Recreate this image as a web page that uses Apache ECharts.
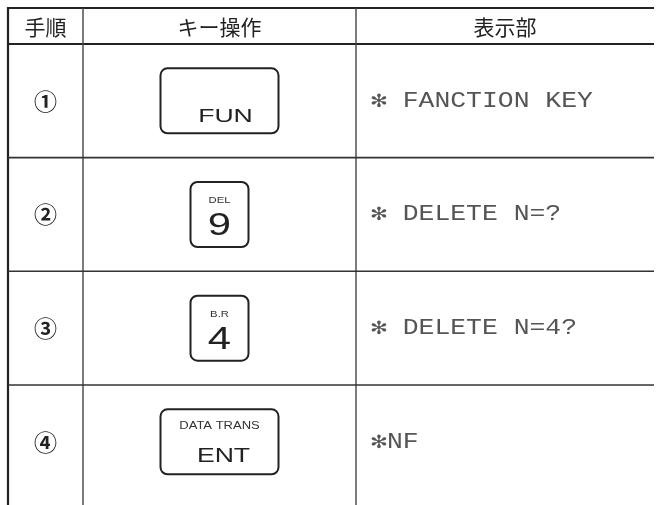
<!DOCTYPE html>
<html><head><meta charset="utf-8">
<script src="https://cdn.jsdelivr.net/npm/echarts@6/dist/echarts.min.js"></script>
<style>html,body{margin:0;padding:0;background:#fff}#c{width:656px;height:505px}</style>
</head><body><div id="c"></div>
<script>
// ---- data ----
const headers = ['手順', 'キー操作', '表示部'];
const steps = ['①', '②', '③', '④'];
const keyTops = ['', 'DEL', 'B.R', 'DATA TRANS'];
const keyMains = ['FUN', '9', '4', 'ENT'];
const keyWide = [true, false, false, true];
const displays = ['✻ FANCTION KEY', '✻ DELETE N=?', '✻ DELETE N=4?', '✻NF'];

// ---- layout (axis units) ----
const COLS = [8, 83, 356, 654];      // x axis units (pixels of the grid)
const HEADER_ROWS = 0.3167;          // header height in row units
const Y_MAX = 4.056;

const CJK = '"Noto Sans CJK JP", "Noto Sans", sans-serif';
const KEYF = '"Liberation Sans", Arial, sans-serif';
const MONO = '"Liberation Mono", "DejaVu Sans Mono", monospace';
const INK = '#222';

const chart = echarts.init(document.getElementById('c'), null, {renderer: 'canvas'});

function frame(params, api) {
  const yTop = api.coord([0, -HEADER_ROWS])[1];
  const yHead = api.coord([0, 0])[1];
  const yBot = api.coord([0, Y_MAX])[1];
  const xs = COLS.map(c => api.coord([c, 0])[0]);
  const ch = [];
  ch.push({type: 'line', shape: {x1: xs[0] - 1, y1: yTop, x2: xs[3], y2: yTop}, style: {stroke: INK, lineWidth: 2.2}});
  ch.push({type: 'line', shape: {x1: xs[0], y1: yHead, x2: xs[3], y2: yHead}, style: {stroke: INK, lineWidth: 2}});
  ch.push({type: 'line', shape: {x1: xs[0], y1: yTop - 1, x2: xs[0], y2: yBot}, style: {stroke: INK, lineWidth: 2.2}});
  ch.push({type: 'line', shape: {x1: xs[1], y1: yTop, x2: xs[1], y2: yBot}, style: {stroke: '#444', lineWidth: 1.4}});
  ch.push({type: 'line', shape: {x1: xs[2], y1: yTop, x2: xs[2], y2: yBot}, style: {stroke: '#444', lineWidth: 1.4}});
  headers.forEach((h, j) => {
    ch.push({type: 'text', x: (xs[j] + xs[j + 1]) / 2, y: (yTop + yHead) / 2 + 1,
      style: {text: h, x: 0, y: 0, align: 'center', verticalAlign: 'middle', fill: INK, font: '21px ' + CJK}});
  });
  return {type: 'group', children: ch};
}

function row(params, api) {
  const i = api.value(0);
  const yA = api.coord([0, i])[1];
  const yB = api.coord([0, i + 1])[1];
  const cy = (yA + yB) / 2;
  const xs = COLS.map(c => api.coord([c, 0])[0]);
  const kx = (xs[1] + xs[2]) / 2;
  const ch = [];
  if (i < steps.length - 1) {
    ch.push({type: 'line', shape: {x1: xs[0], y1: yB, x2: xs[3], y2: yB}, style: {stroke: '#333', lineWidth: 1.6}});
  }
  ch.push({type: 'text', x: (xs[0] + xs[1]) / 2, y: cy,
    style: {text: steps[i], x: 0, y: 0, align: 'center', verticalAlign: 'middle', fill: INK, font: 'bold 23px ' + CJK}});
  const w = keyWide[i] ? 118 : 58;
  const h = 65;
  ch.push({type: 'rect', shape: {x: kx - w / 2, y: cy - h / 2, width: w, height: h, r: 7},
    style: {fill: '#fff', stroke: INK, lineWidth: 2}});
  if (keyWide[i]) {
    if (keyTops[i]) {
      ch.push({type: 'text', x: kx, y: cy - 16, scaleX: 1.3,
        style: {text: keyTops[i], x: 0, y: 0, align: 'center', verticalAlign: 'middle', fill: '#333', font: '10px ' + KEYF}});
      ch.push({type: 'text', x: kx + 4, y: cy + 15, scaleX: 1.33,
        style: {text: keyMains[i], x: 0, y: 0, align: 'center', verticalAlign: 'middle', fill: INK, font: '20px ' + KEYF}});
    } else {
      ch.push({type: 'text', x: kx + 6, y: cy + 16, scaleX: 1.4,
        style: {text: keyMains[i], x: 0, y: 0, align: 'center', verticalAlign: 'middle', fill: INK, font: '19px ' + KEYF}});
    }
  } else {
    ch.push({type: 'text', x: kx, y: cy - 14, scaleX: 1.25,
      style: {text: keyTops[i], x: 0, y: 0, align: 'center', verticalAlign: 'middle', fill: '#333', font: '9px ' + KEYF}});
    ch.push({type: 'text', x: kx, y: cy + 12, scaleX: 1.35,
      style: {text: keyMains[i], x: 0, y: 0, align: 'center', verticalAlign: 'middle', fill: INK, font: '31px ' + KEYF}});
  }
  ch.push({type: 'text', x: xs[2] + 15, y: cy, scaleX: 1.2,
    style: {text: displays[i], x: 0, y: 0, align: 'left', verticalAlign: 'middle', fill: '#555', font: '22px ' + MONO}});
  return {type: 'group', children: ch};
}

chart.setOption({
  animation: false,
  grid: {left: 0, right: 0, top: 8, bottom: 0},
  xAxis: {type: 'value', min: 0, max: 656, show: false},
  yAxis: {type: 'value', min: -HEADER_ROWS, max: Y_MAX, inverse: true, show: false},
  series: [
    {type: 'custom', renderItem: frame, data: [[0]], silent: true},
    {type: 'custom', renderItem: row, data: steps.map((s, i) => [i]), silent: true}
  ]
});
</script></body></html>
